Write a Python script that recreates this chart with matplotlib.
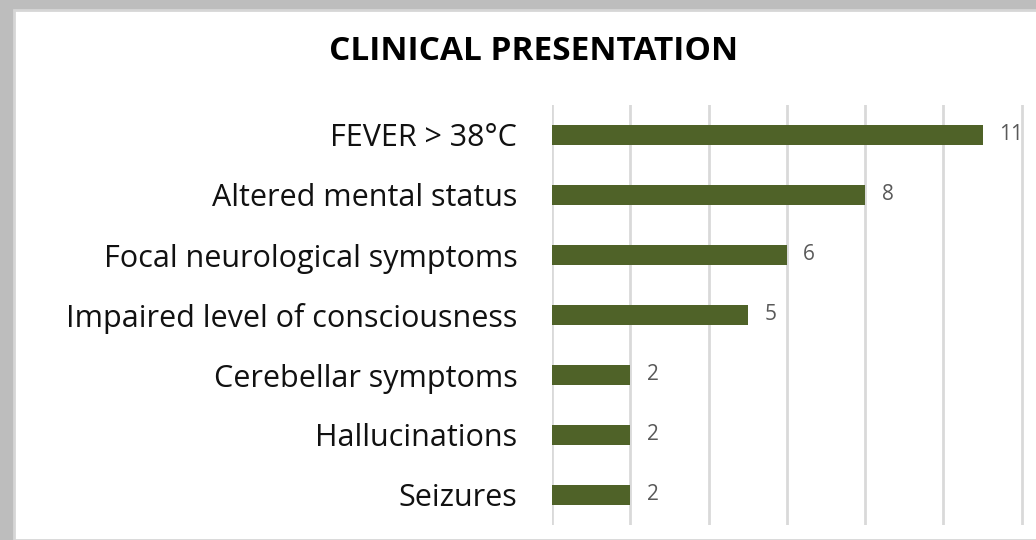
import matplotlib.pyplot as plt
from matplotlib.patches import Rectangle

categories = ['FEVER > 38°C', 'Altered mental status', 'Focal neurological symptoms',
              'Impaired level of consciousness', 'Cerebellar symptoms',
              'Hallucinations', 'Seizures']
counts = [11, 8, 6, 5, 2, 2, 2]

W, H = 1036, 540
fig = plt.figure(figsize=(W / 100, H / 100), dpi=100)
fig.patch.set_facecolor('#bdbdbd')

# white chart panel inside the grey frame
fig.patches.append(Rectangle((14 / W, 0), 1, 1 - 10 / H, transform=fig.transFigure,
                             facecolor='white', edgecolor='#d6d6d6', lw=2, zorder=-5))

ax = fig.add_axes([552 / W, 15 / H, (1100 - 552) / W, 420 / H])
ax.set_facecolor('none')
ax.set_zorder(2)

ypos = list(range(len(categories)))[::-1]
ax.barh(ypos, counts, height=0.33, color='#4f6228', zorder=3)

for y, v in zip(ypos, counts):
    ax.text(v + 0.42, y, str(v), va='center', ha='left', fontsize=15,
            color='#595959', family='Open Sans')

ax.set_xlim(0, 14)
ax.set_ylim(-0.5, len(categories) - 0.5)
ax.set_xticks(range(0, 15, 2))
ax.xaxis.grid(True, color='#d9d9d9', lw=2)
ax.set_axisbelow(True)
ax.tick_params(axis='x', length=0, labelbottom=False)
ax.tick_params(axis='y', length=0, pad=25)
ax.set_yticks(ypos)
ax.set_yticklabels(categories, fontsize=22, family='Open Sans', color='#111111')
for s in ax.spines.values():
    s.set_visible(False)

fig.text(534 / W, 1 - 52 / H, 'CLINICAL PRESENTATION', ha='center', va='center',
         fontsize=24, fontweight='bold', family='Open Sans')

fig.savefig('out.png', dpi=100, facecolor=fig.get_facecolor())
